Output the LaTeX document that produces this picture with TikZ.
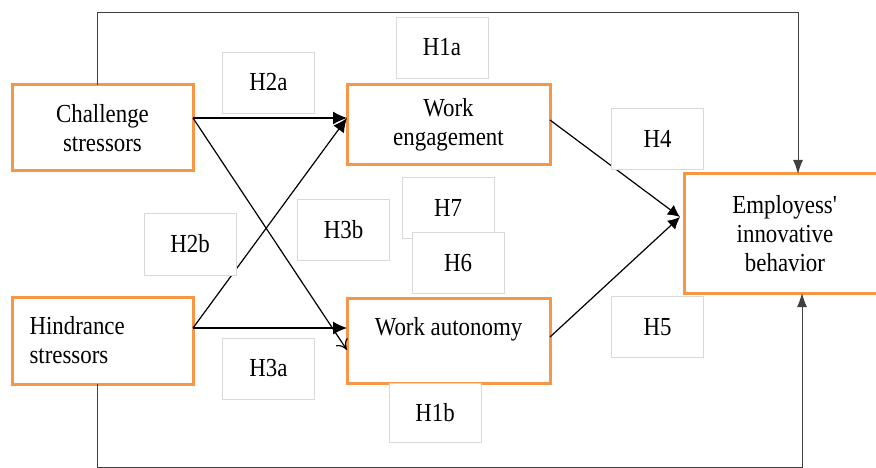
\documentclass[tikz,border=0pt]{standalone}
\usepackage{fontspec}
\setmainfont[FakeStretch=0.88]{Liberation Serif}
\usetikzlibrary{arrows.meta}
\definecolor{boxorange}{HTML}{F79646}
\definecolor{hypgray}{HTML}{D9D9D9}
\definecolor{loopgray}{HTML}{404040}

\begin{document}
\begin{tikzpicture}[x=1pt, y=-1pt,
        every node/.style={anchor=center, outer sep=0pt},
        factor/.style={draw=boxorange, line width=3pt, fill=white, align=center,
            font=\fontsize{26}{29}\selectfont},
        hyp/.style={draw=hypgray, line width=0.8pt, fill=white,
            minimum width=92pt, minimum height=61pt, font=\fontsize{26}{29}\selectfont},
        link/.style={draw=black, line width=1.2pt},
        loopline/.style={draw=loopgray, line width=1pt}]
        \useasboundingbox (0,0) rectangle (876,468);

        % Factors
        \node[factor, minimum width=181pt, minimum height=86pt] (cs) at (102.5,128) {Challenge\\stressors};
        \node[factor, minimum width=181pt, minimum height=87pt, align=left, text width=146pt] (hs) at (102.5,340.5) {Hindrance\\stressors};
        \node[factor, minimum width=203pt, minimum height=80pt] (we) at (448.5,125) {Work\\engagement};
        \node[factor, minimum width=203pt, minimum height=85pt] (wa) at (448.5,340.5) {Work autonomy\\\mbox{}};
        \node[factor, minimum width=202pt, minimum height=119pt] (eib) at (785,233.5) {Employess\textquotesingle\\innovative\\behavior};

        % Paths
        \draw[link, -{Latex[length=14pt,width=13pt]}] ([yshift=10pt]cs.east) -- ([yshift=7pt]we.west);
        \draw[link, -{To[length=10pt,width=14pt]}] ([yshift=10pt]cs.east) -- ([yshift=-9.5pt]wa.west);
        \draw[link, -{Latex[length=14pt,width=13pt]}] ([yshift=12.5pt]hs.east) -- ([yshift=12.5pt]wa.west);
        \draw[link, -{Latex[length=14pt,width=13pt]}] ([yshift=12.5pt]hs.east) -- ([yshift=7pt]we.west);
        \draw[link, -{Latex[length=12pt,width=12pt]}] ([yshift=5pt]we.east) -- ([xshift=-4pt,yshift=16.5pt]eib.west);
        \draw[link, -{Latex[length=12pt,width=12pt]}] ([yshift=3.5pt]wa.east) -- ([xshift=-4pt,yshift=16.5pt]eib.west);

        % Direct effects
        \draw[loopline, -{Latex[length=14pt,width=10pt]}] ([xshift=-5.5pt]cs.north) -- ++(0,-72) -| ([xshift=13pt]eib.north);
        \draw[loopline, -{Latex[length=14pt,width=10pt]}] ([xshift=-5.5pt]hs.south) -- ++(0,83) -| ([xshift=17pt]eib.south);

        % Hypothesis labels
        \node[hyp] (h1a) at (442,47.5) {H1a};
        \node[hyp] (h2a) at (268.5,82.5) {H2a};
        \node[hyp] (h4) at (657.5,138.5) {H4};
        \node[hyp] (h3b) at (343.5,229.5) {H3b};
        \node[hyp] (h7) at (448,207.5) {H7};
        \node[hyp] (h6) at (458,263) {H6};
        \node[hyp, minimum height=62pt] (h2b) at (190,244) {H2b};
        \node[hyp] (h3a) at (268.5,368.5) {H3a};
        \node[hyp] (h5) at (657.5,327) {H5};
        \node[hyp, minimum height=59pt] (h1b) at (435,412.5) {H1b};
    \end{tikzpicture}
\end{document}
